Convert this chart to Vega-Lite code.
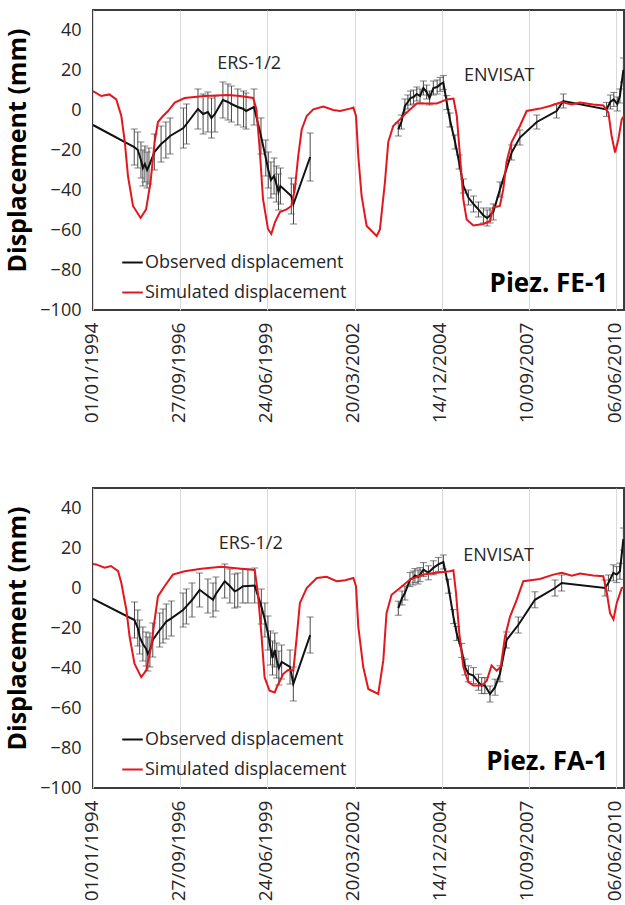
{
  "$schema": "https://vega.github.io/schema/vega-lite/v6.json",
  "padding": {"left": 4, "top": 9, "right": 0, "bottom": 0},
  "background": "white",
  "config": {
    "font": "Open Sans",
    "view": {"stroke": "#3c3c3c", "strokeWidth": 2},
    "axis": {"domain": false, "ticks": false, "labelColor": "#262626", "labelFontSize": 18, "labelFont": "Open Sans", "titleColor": "#000000", "titleFont": "Open Sans"},
    "axisX": {"grid": true, "gridColor": "#d9d9d9", "gridWidth": 1, "labelAngle": -90, "labelPadding": 12, "labelFontSize": 19, "labelOffset": -2},
    "axisY": {"grid": false, "labelPadding": 12, "titleFontSize": 25, "titleFontWeight": "bold", "titlePadding": 9, "titleY": 140},
    "legend": {"labelLimit": 0}
  },
  "datasets": {
    "fe1": [
      {"d": "1994-01-01", "v": 9.5, "s": "Simulated displacement", "g": "m"},
      {"d": "1994-04-05", "v": 7, "s": "Simulated displacement", "g": "m"},
      {"d": "1994-07-08", "v": 7.8, "s": "Simulated displacement", "g": "m"},
      {"d": "1994-09-25", "v": 5.3, "s": "Simulated displacement", "g": "m"},
      {"d": "1994-11-22", "v": -3, "s": "Simulated displacement", "g": "m"},
      {"d": "1995-01-01", "v": -16, "s": "Simulated displacement", "g": "m"},
      {"d": "1995-02-06", "v": -33, "s": "Simulated displacement", "g": "m"},
      {"d": "1995-04-05", "v": -48, "s": "Simulated displacement", "g": "m"},
      {"d": "1995-07-01", "v": -54, "s": "Simulated displacement", "g": "m"},
      {"d": "1995-09-02", "v": -49.7, "s": "Simulated displacement", "g": "m"},
      {"d": "1995-10-23", "v": -36, "s": "Simulated displacement", "g": "m"},
      {"d": "1995-12-09", "v": -16, "s": "Simulated displacement", "g": "m"},
      {"d": "1996-01-16", "v": -6, "s": "Simulated displacement", "g": "m"},
      {"d": "1996-03-14", "v": -3, "s": "Simulated displacement", "g": "m"},
      {"d": "1996-05-11", "v": -0.5, "s": "Simulated displacement", "g": "m"},
      {"d": "1996-07-27", "v": 3.7, "s": "Simulated displacement", "g": "m"},
      {"d": "1996-11-17", "v": 6, "s": "Simulated displacement", "g": "m"},
      {"d": "1997-07-05", "v": 7, "s": "Simulated displacement", "g": "m"},
      {"d": "1998-03-29", "v": 7.5, "s": "Simulated displacement", "g": "m"},
      {"d": "1998-08-14", "v": 7, "s": "Simulated displacement", "g": "m"},
      {"d": "1999-01-12", "v": 6, "s": "Simulated displacement", "g": "m"},
      {"d": "1999-02-18", "v": 0.5, "s": "Simulated displacement", "g": "m"},
      {"d": "1999-03-28", "v": -19.5, "s": "Simulated displacement", "g": "m"},
      {"d": "1999-05-05", "v": -44.5, "s": "Simulated displacement", "g": "m"},
      {"d": "1999-07-01", "v": -59.5, "s": "Simulated displacement", "g": "m"},
      {"d": "1999-08-08", "v": -62, "s": "Simulated displacement", "g": "m"},
      {"d": "1999-09-20", "v": -56, "s": "Simulated displacement", "g": "m"},
      {"d": "1999-11-15", "v": -51, "s": "Simulated displacement", "g": "m"},
      {"d": "2000-01-30", "v": -49.7, "s": "Simulated displacement", "g": "m"},
      {"d": "2000-03-27", "v": -48, "s": "Simulated displacement", "g": "m"},
      {"d": "2000-05-04", "v": -39.7, "s": "Simulated displacement", "g": "m"},
      {"d": "2000-06-12", "v": -23, "s": "Simulated displacement", "g": "m"},
      {"d": "2000-07-22", "v": -9.7, "s": "Simulated displacement", "g": "m"},
      {"d": "2000-09-17", "v": -3, "s": "Simulated displacement", "g": "m"},
      {"d": "2000-12-02", "v": 0.3, "s": "Simulated displacement", "g": "m"},
      {"d": "2001-03-27", "v": 1.7, "s": "Simulated displacement", "g": "m"},
      {"d": "2001-07-19", "v": 0, "s": "Simulated displacement", "g": "m"},
      {"d": "2001-10-05", "v": -0.5, "s": "Simulated displacement", "g": "m"},
      {"d": "2002-01-27", "v": 0.7, "s": "Simulated displacement", "g": "m"},
      {"d": "2002-03-07", "v": 1.2, "s": "Simulated displacement", "g": "m"},
      {"d": "2002-04-06", "v": -3, "s": "Simulated displacement", "g": "m"},
      {"d": "2002-05-02", "v": -23, "s": "Simulated displacement", "g": "m"},
      {"d": "2002-06-09", "v": -43, "s": "Simulated displacement", "g": "m"},
      {"d": "2002-08-06", "v": -58, "s": "Simulated displacement", "g": "m"},
      {"d": "2002-11-29", "v": -63, "s": "Simulated displacement", "g": "m"},
      {"d": "2003-01-05", "v": -59.7, "s": "Simulated displacement", "g": "m"},
      {"d": "2003-03-04", "v": -36, "s": "Simulated displacement", "g": "m"},
      {"d": "2003-04-11", "v": -16, "s": "Simulated displacement", "g": "m"},
      {"d": "2003-06-07", "v": -8, "s": "Simulated displacement", "g": "m"},
      {"d": "2003-08-23", "v": -4.7, "s": "Simulated displacement", "g": "m"},
      {"d": "2003-11-07", "v": -1.3, "s": "Simulated displacement", "g": "m"},
      {"d": "2004-03-02", "v": 3.3, "s": "Simulated displacement", "g": "m"},
      {"d": "2004-06-25", "v": 3.3, "s": "Simulated displacement", "g": "m"},
      {"d": "2004-10-19", "v": 3.3, "s": "Simulated displacement", "g": "m"},
      {"d": "2005-02-11", "v": 5.3, "s": "Simulated displacement", "g": "m"},
      {"d": "2005-04-28", "v": 5.7, "s": "Simulated displacement", "g": "m"},
      {"d": "2005-06-05", "v": -3, "s": "Simulated displacement", "g": "m"},
      {"d": "2005-07-12", "v": -23, "s": "Simulated displacement", "g": "m"},
      {"d": "2005-08-19", "v": -44.7, "s": "Simulated displacement", "g": "m"},
      {"d": "2005-09-26", "v": -54.7, "s": "Simulated displacement", "g": "m"},
      {"d": "2005-12-12", "v": -57.7, "s": "Simulated displacement", "g": "m"},
      {"d": "2006-04-06", "v": -57, "s": "Simulated displacement", "g": "m"},
      {"d": "2006-06-21", "v": -55.5, "s": "Simulated displacement", "g": "m"},
      {"d": "2006-07-28", "v": -48.8, "s": "Simulated displacement", "g": "m"},
      {"d": "2006-10-12", "v": -48, "s": "Simulated displacement", "g": "m"},
      {"d": "2006-11-20", "v": -39.7, "s": "Simulated displacement", "g": "m"},
      {"d": "2006-12-28", "v": -26, "s": "Simulated displacement", "g": "m"},
      {"d": "2007-02-24", "v": -16, "s": "Simulated displacement", "g": "m"},
      {"d": "2007-05-30", "v": -8, "s": "Simulated displacement", "g": "m"},
      {"d": "2007-08-15", "v": -0.5, "s": "Simulated displacement", "g": "m"},
      {"d": "2008-01-15", "v": 0.7, "s": "Simulated displacement", "g": "m"},
      {"d": "2008-05-08", "v": 2, "s": "Simulated displacement", "g": "m"},
      {"d": "2008-09-20", "v": 4, "s": "Simulated displacement", "g": "m"},
      {"d": "2009-01-14", "v": 2.8, "s": "Simulated displacement", "g": "m"},
      {"d": "2009-04-18", "v": 3.7, "s": "Simulated displacement", "g": "m"},
      {"d": "2009-09-16", "v": 2.8, "s": "Simulated displacement", "g": "m"},
      {"d": "2010-01-11", "v": 2.3, "s": "Simulated displacement", "g": "m"},
      {"d": "2010-03-10", "v": -1.3, "s": "Simulated displacement", "g": "m"},
      {"d": "2010-04-16", "v": -13, "s": "Simulated displacement", "g": "m"},
      {"d": "2010-05-26", "v": -21.3, "s": "Simulated displacement", "g": "m"},
      {"d": "2010-07-02", "v": -14.7, "s": "Simulated displacement", "g": "m"},
      {"d": "2010-08-10", "v": -4.7, "s": "Simulated displacement", "g": "m"},
      {"d": "2010-09-16", "v": -2.2, "s": "Simulated displacement", "g": "m"},

      {"d": "1994-01-01", "v": -7.5, "s": "Observed displacement", "g": "ers"},
      {"d": "1995-04-19", "v": -18.5, "lo": -27.5, "hi": -9.5, "s": "Observed displacement", "g": "ers"},
      {"d": "1995-05-30", "v": -20, "lo": -29, "hi": -11, "s": "Observed displacement", "g": "ers"},
      {"d": "1995-07-05", "v": -25, "lo": -34, "hi": -16, "s": "Observed displacement", "g": "ers"},
      {"d": "1995-07-27", "v": -29, "lo": -38, "hi": -20, "s": "Observed displacement", "g": "ers"},
      {"d": "1995-08-19", "v": -27, "lo": -36, "hi": -18, "s": "Observed displacement", "g": "ers"},
      {"d": "1995-09-13", "v": -30, "lo": -39, "hi": -21, "s": "Observed displacement", "g": "ers"},
      {"d": "1995-10-05", "v": -28, "lo": -37, "hi": -19, "s": "Observed displacement", "g": "ers"},
      {"d": "1995-12-06", "v": -21, "lo": -30, "hi": -12, "s": "Observed displacement", "g": "ers"},
      {"d": "1996-02-21", "v": -17, "lo": -26, "hi": -8, "s": "Observed displacement", "g": "ers"},
      {"d": "1996-04-16", "v": -15, "lo": -24, "hi": -6, "s": "Observed displacement", "g": "ers"},
      {"d": "1996-06-03", "v": -13, "lo": -22, "hi": -4, "s": "Observed displacement", "g": "ers"},
      {"d": "1996-11-03", "v": -9, "lo": -19, "hi": 1, "s": "Observed displacement", "g": "ers"},
      {"d": "1996-12-09", "v": -7, "lo": -17, "hi": 3, "s": "Observed displacement", "g": "ers"},
      {"d": "1997-04-19", "v": 0.5, "lo": -9.5, "hi": 10.5, "s": "Observed displacement", "g": "ers"},
      {"d": "1997-06-17", "v": -2, "lo": -12, "hi": 8, "s": "Observed displacement", "g": "ers"},
      {"d": "1997-08-11", "v": -1, "lo": -11, "hi": 9, "s": "Observed displacement", "g": "ers"},
      {"d": "1997-09-21", "v": -4, "lo": -14, "hi": 6, "s": "Observed displacement", "g": "ers"},
      {"d": "1997-10-31", "v": -2, "lo": -11, "hi": 7, "s": "Observed displacement", "g": "ers"},
      {"d": "1998-01-30", "v": 5, "lo": -4, "hi": 14, "s": "Observed displacement", "g": "ers"},
      {"d": "1998-03-29", "v": 4, "lo": -5, "hi": 13, "s": "Observed displacement", "g": "ers"},
      {"d": "1998-05-08", "v": 3, "lo": -6, "hi": 12, "s": "Observed displacement", "g": "ers"},
      {"d": "1998-07-20", "v": 1.5, "lo": -7.5, "hi": 10.5, "s": "Observed displacement", "g": "ers"},
      {"d": "1998-09-24", "v": 0.5, "lo": -8.5, "hi": 9.5, "s": "Observed displacement", "g": "ers"},
      {"d": "1998-10-23", "v": -0.5, "lo": -9.5, "hi": 8.5, "s": "Observed displacement", "g": "ers"},
      {"d": "1999-01-22", "v": 1.5, "lo": -7.5, "hi": 10.5, "s": "Observed displacement", "g": "ers"},
      {"d": "1999-04-12", "v": -13, "lo": -22, "hi": -4, "s": "Observed displacement", "g": "ers"},
      {"d": "1999-06-06", "v": -24, "lo": -33, "hi": -15, "s": "Observed displacement", "g": "ers"},
      {"d": "1999-07-05", "v": -30, "lo": -39, "hi": -21, "s": "Observed displacement", "g": "ers"},
      {"d": "1999-08-04", "v": -35, "lo": -44, "hi": -26, "s": "Observed displacement", "g": "ers"},
      {"d": "1999-09-09", "v": -33, "lo": -42, "hi": -24, "s": "Observed displacement", "g": "ers"},
      {"d": "1999-10-05", "v": -37, "lo": -46, "hi": -28, "s": "Observed displacement", "g": "ers"},
      {"d": "1999-10-30", "v": -41, "lo": -50, "hi": -32, "s": "Observed displacement", "g": "ers"},
      {"d": "1999-11-21", "v": -38, "lo": -47, "hi": -29, "s": "Observed displacement", "g": "ers"},
      {"d": "2000-03-25", "v": -43, "lo": -52, "hi": -34, "s": "Observed displacement", "g": "ers"},
      {"d": "2000-04-19", "v": -47, "lo": -57, "hi": -37, "s": "Observed displacement", "g": "ers"},
      {"d": "2000-10-27", "v": -23.5, "lo": -35.5, "hi": -11.5, "s": "Observed displacement", "g": "ers"},

      {"d": "2003-08-04", "v": -9.7, "lo": -13, "hi": -6.4, "s": "Observed displacement", "g": "env"},
      {"d": "2003-09-09", "v": -6, "lo": -9.5, "hi": -2.5, "s": "Observed displacement", "g": "env"},
      {"d": "2003-10-19", "v": 2, "lo": -1.5, "hi": 5.5, "s": "Observed displacement", "g": "env"},
      {"d": "2003-11-22", "v": 4, "lo": 0.5, "hi": 7.5, "s": "Observed displacement", "g": "env"},
      {"d": "2003-12-21", "v": 6, "lo": 2.5, "hi": 9.5, "s": "Observed displacement", "g": "env"},
      {"d": "2004-01-26", "v": 6.5, "lo": 3, "hi": 10, "s": "Observed displacement", "g": "env"},
      {"d": "2004-03-03", "v": 8, "lo": 4.5, "hi": 11.5, "s": "Observed displacement", "g": "env"},
      {"d": "2004-04-09", "v": 7, "lo": 3.5, "hi": 10.5, "s": "Observed displacement", "g": "env"},
      {"d": "2004-05-18", "v": 11, "lo": 7.5, "hi": 14.5, "s": "Observed displacement", "g": "env"},
      {"d": "2004-06-24", "v": 9, "lo": 5.5, "hi": 12.5, "s": "Observed displacement", "g": "env"},
      {"d": "2004-07-28", "v": 6, "lo": 2.5, "hi": 9.5, "s": "Observed displacement", "g": "env"},
      {"d": "2004-09-09", "v": 11, "lo": 7.5, "hi": 14.5, "s": "Observed displacement", "g": "env"},
      {"d": "2004-10-23", "v": 11.5, "lo": 8, "hi": 15, "s": "Observed displacement", "g": "env"},
      {"d": "2004-11-25", "v": 12.8, "lo": 9.3, "hi": 16.3, "s": "Observed displacement", "g": "env"},
      {"d": "2005-01-02", "v": 13.7, "lo": 10.2, "hi": 17.2, "s": "Observed displacement", "g": "env"},
      {"d": "2005-02-10", "v": 3.7, "lo": 0.2, "hi": 7.2, "s": "Observed displacement", "g": "env"},
      {"d": "2005-03-19", "v": -5, "lo": -8.5, "hi": -1.5, "s": "Observed displacement", "g": "env"},
      {"d": "2005-05-16", "v": -16, "lo": -19.5, "hi": -12.5, "s": "Observed displacement", "g": "env"},
      {"d": "2005-07-01", "v": -26, "lo": -29.5, "hi": -22.5, "s": "Observed displacement", "g": "env"},
      {"d": "2005-08-20", "v": -38, "lo": -41.5, "hi": -34.5, "s": "Observed displacement", "g": "env"},
      {"d": "2005-10-16", "v": -43.8, "lo": -47.5, "hi": -40, "s": "Observed displacement", "g": "env"},
      {"d": "2005-12-13", "v": -47, "lo": -51, "hi": -43, "s": "Observed displacement", "g": "env"},
      {"d": "2006-02-08", "v": -49.7, "lo": -53.5, "hi": -46, "s": "Observed displacement", "g": "env"},
      {"d": "2006-04-06", "v": -52.7, "lo": -56.5, "hi": -49, "s": "Observed displacement", "g": "env"},
      {"d": "2006-05-19", "v": -54, "lo": -58, "hi": -50, "s": "Observed displacement", "g": "env"},
      {"d": "2006-06-21", "v": -52.7, "lo": -56.5, "hi": -49, "s": "Observed displacement", "g": "env"},
      {"d": "2006-07-29", "v": -51, "lo": -55, "hi": -47, "s": "Observed displacement", "g": "env"},
      {"d": "2006-10-13", "v": -39.7, "lo": -43.5, "hi": -36, "s": "Observed displacement", "g": "env"},
      {"d": "2007-02-24", "v": -21.3, "lo": -25, "hi": -17.5, "s": "Observed displacement", "g": "env"},
      {"d": "2007-05-30", "v": -13.8, "lo": -17.5, "hi": -10, "s": "Observed displacement", "g": "env"},
      {"d": "2007-12-10", "v": -6, "lo": -9.5, "hi": -2.5, "s": "Observed displacement", "g": "env"},
      {"d": "2008-07-24", "v": -0.5, "lo": -4, "hi": 3, "s": "Observed displacement", "g": "env"},
      {"d": "2008-10-09", "v": 4.5, "lo": 1, "hi": 8, "s": "Observed displacement", "g": "env"},
      {"d": "2010-02-17", "v": 0.3, "lo": -3.2, "hi": 3.8, "s": "Observed displacement", "g": "env"},
      {"d": "2010-04-01", "v": 4, "lo": 0.5, "hi": 7.5, "s": "Observed displacement", "g": "env"},
      {"d": "2010-05-11", "v": 5.3, "lo": 1.8, "hi": 8.8, "s": "Observed displacement", "g": "env"},
      {"d": "2010-06-20", "v": 3, "lo": -0.5, "hi": 6.5, "s": "Observed displacement", "g": "env"},
      {"d": "2010-07-20", "v": 7, "lo": 3.5, "hi": 10.5, "s": "Observed displacement", "g": "env"},
      {"d": "2010-08-29", "v": 20, "lo": 14, "hi": 26, "s": "Observed displacement", "g": "env"}
    ],
    "fa1": [
      {"d": "1994-01-01", "v": 12, "s": "Simulated displacement", "g": "m"},
      {"d": "1994-02-07", "v": 11.8, "s": "Simulated displacement", "g": "m"},
      {"d": "1994-05-14", "v": 10.1, "s": "Simulated displacement", "g": "m"},
      {"d": "1994-07-27", "v": 11, "s": "Simulated displacement", "g": "m"},
      {"d": "1994-10-16", "v": 8.4, "s": "Simulated displacement", "g": "m"},
      {"d": "1994-11-22", "v": 2.5, "s": "Simulated displacement", "g": "m"},
      {"d": "1995-01-19", "v": -11, "s": "Simulated displacement", "g": "m"},
      {"d": "1995-02-25", "v": -24.4, "s": "Simulated displacement", "g": "m"},
      {"d": "1995-04-22", "v": -37.9, "s": "Simulated displacement", "g": "m"},
      {"d": "1995-07-08", "v": -44.6, "s": "Simulated displacement", "g": "m"},
      {"d": "1995-09-02", "v": -41.3, "s": "Simulated displacement", "g": "m"},
      {"d": "1995-10-30", "v": -29.5, "s": "Simulated displacement", "g": "m"},
      {"d": "1995-12-09", "v": -16, "s": "Simulated displacement", "g": "m"},
      {"d": "1996-01-16", "v": -4.2, "s": "Simulated displacement", "g": "m"},
      {"d": "1996-04-01", "v": 0.9, "s": "Simulated displacement", "g": "m"},
      {"d": "1996-07-05", "v": 6.7, "s": "Simulated displacement", "g": "m"},
      {"d": "1996-11-17", "v": 8.4, "s": "Simulated displacement", "g": "m"},
      {"d": "1997-05-27", "v": 9.6, "s": "Simulated displacement", "g": "m"},
      {"d": "1998-01-11", "v": 10.6, "s": "Simulated displacement", "g": "m"},
      {"d": "1998-08-29", "v": 9.6, "s": "Simulated displacement", "g": "m"},
      {"d": "1999-01-30", "v": 9, "s": "Simulated displacement", "g": "m"},
      {"d": "1999-03-07", "v": -2.5, "s": "Simulated displacement", "g": "m"},
      {"d": "1999-04-16", "v": -22.7, "s": "Simulated displacement", "g": "m"},
      {"d": "1999-05-23", "v": -44.6, "s": "Simulated displacement", "g": "m"},
      {"d": "1999-07-19", "v": -51.4, "s": "Simulated displacement", "g": "m"},
      {"d": "1999-09-17", "v": -52.2, "s": "Simulated displacement", "g": "m"},
      {"d": "1999-10-10", "v": -49.6, "s": "Simulated displacement", "g": "m"},
      {"d": "1999-12-24", "v": -42.9, "s": "Simulated displacement", "g": "m"},
      {"d": "2000-02-17", "v": -41, "s": "Simulated displacement", "g": "m"},
      {"d": "2000-04-17", "v": -41.3, "s": "Simulated displacement", "g": "m"},
      {"d": "2000-05-26", "v": -24.4, "s": "Simulated displacement", "g": "m"},
      {"d": "2000-07-01", "v": -7.6, "s": "Simulated displacement", "g": "m"},
      {"d": "2000-09-17", "v": 0, "s": "Simulated displacement", "g": "m"},
      {"d": "2001-01-11", "v": 5, "s": "Simulated displacement", "g": "m"},
      {"d": "2001-05-04", "v": 5.6, "s": "Simulated displacement", "g": "m"},
      {"d": "2001-08-27", "v": 3.4, "s": "Simulated displacement", "g": "m"},
      {"d": "2001-12-02", "v": 3.9, "s": "Simulated displacement", "g": "m"},
      {"d": "2002-03-07", "v": 5, "s": "Simulated displacement", "g": "m"},
      {"d": "2002-04-06", "v": 0.9, "s": "Simulated displacement", "g": "m"},
      {"d": "2002-05-02", "v": -19.3, "s": "Simulated displacement", "g": "m"},
      {"d": "2002-06-28", "v": -39.5, "s": "Simulated displacement", "g": "m"},
      {"d": "2002-08-25", "v": -50.5, "s": "Simulated displacement", "g": "m"},
      {"d": "2002-12-17", "v": -53, "s": "Simulated displacement", "g": "m"},
      {"d": "2003-02-13", "v": -36.2, "s": "Simulated displacement", "g": "m"},
      {"d": "2003-03-22", "v": -12.6, "s": "Simulated displacement", "g": "m"},
      {"d": "2003-05-19", "v": -3.4, "s": "Simulated displacement", "g": "m"},
      {"d": "2003-08-23", "v": 0, "s": "Simulated displacement", "g": "m"},
      {"d": "2003-12-16", "v": 4.2, "s": "Simulated displacement", "g": "m"},
      {"d": "2004-05-18", "v": 6.7, "s": "Simulated displacement", "g": "m"},
      {"d": "2004-10-19", "v": 7.6, "s": "Simulated displacement", "g": "m"},
      {"d": "2005-03-19", "v": 8.4, "s": "Simulated displacement", "g": "m"},
      {"d": "2005-04-27", "v": 8.9, "s": "Simulated displacement", "g": "m"},
      {"d": "2005-05-27", "v": -2.5, "s": "Simulated displacement", "g": "m"},
      {"d": "2005-07-04", "v": -22.7, "s": "Simulated displacement", "g": "m"},
      {"d": "2005-08-19", "v": -39.5, "s": "Simulated displacement", "g": "m"},
      {"d": "2005-10-16", "v": -47.1, "s": "Simulated displacement", "g": "m"},
      {"d": "2005-12-13", "v": -48.8, "s": "Simulated displacement", "g": "m"},
      {"d": "2006-03-18", "v": -48.8, "s": "Simulated displacement", "g": "m"},
      {"d": "2006-05-15", "v": -46.3, "s": "Simulated displacement", "g": "m"},
      {"d": "2006-07-09", "v": -38.7, "s": "Simulated displacement", "g": "m"},
      {"d": "2006-09-05", "v": -41.3, "s": "Simulated displacement", "g": "m"},
      {"d": "2006-10-22", "v": -39.5, "s": "Simulated displacement", "g": "m"},
      {"d": "2006-12-10", "v": -24.4, "s": "Simulated displacement", "g": "m"},
      {"d": "2007-02-06", "v": -14.3, "s": "Simulated displacement", "g": "m"},
      {"d": "2007-04-23", "v": -5.9, "s": "Simulated displacement", "g": "m"},
      {"d": "2007-07-08", "v": 3.4, "s": "Simulated displacement", "g": "m"},
      {"d": "2008-01-15", "v": 4.5, "s": "Simulated displacement", "g": "m"},
      {"d": "2008-06-16", "v": 6.7, "s": "Simulated displacement", "g": "m"},
      {"d": "2008-09-20", "v": 7.6, "s": "Simulated displacement", "g": "m"},
      {"d": "2009-01-14", "v": 6.2, "s": "Simulated displacement", "g": "m"},
      {"d": "2009-04-18", "v": 7.2, "s": "Simulated displacement", "g": "m"},
      {"d": "2009-09-16", "v": 6.2, "s": "Simulated displacement", "g": "m"},
      {"d": "2010-01-11", "v": 5.9, "s": "Simulated displacement", "g": "m"},
      {"d": "2010-02-20", "v": -2.5, "s": "Simulated displacement", "g": "m"},
      {"d": "2010-03-29", "v": -12.6, "s": "Simulated displacement", "g": "m"},
      {"d": "2010-05-07", "v": -15.7, "s": "Simulated displacement", "g": "m"},
      {"d": "2010-06-13", "v": -7.6, "s": "Simulated displacement", "g": "m"},
      {"d": "2010-08-10", "v": 0, "s": "Simulated displacement", "g": "m"},
      {"d": "2010-09-16", "v": 0.5, "s": "Simulated displacement", "g": "m"},

      {"d": "1994-01-01", "v": -5.5, "s": "Observed displacement", "g": "ers"},
      {"d": "1995-04-22", "v": -16, "lo": -25, "hi": -7, "s": "Observed displacement", "g": "ers"},
      {"d": "1995-05-30", "v": -20, "lo": -29, "hi": -11, "s": "Observed displacement", "g": "ers"},
      {"d": "1995-06-20", "v": -24.4, "lo": -33, "hi": -16, "s": "Observed displacement", "g": "ers"},
      {"d": "1995-07-27", "v": -28, "lo": -36.5, "hi": -19.5, "s": "Observed displacement", "g": "ers"},
      {"d": "1995-09-02", "v": -30.3, "lo": -39, "hi": -22, "s": "Observed displacement", "g": "ers"},
      {"d": "1995-09-22", "v": -33, "lo": -41.5, "hi": -24.5, "s": "Observed displacement", "g": "ers"},
      {"d": "1995-10-16", "v": -31, "lo": -39.5, "hi": -22.5, "s": "Observed displacement", "g": "ers"},
      {"d": "1995-11-18", "v": -26, "lo": -34.5, "hi": -17.5, "s": "Observed displacement", "g": "ers"},
      {"d": "1996-02-05", "v": -21, "lo": -29.5, "hi": -12.5, "s": "Observed displacement", "g": "ers"},
      {"d": "1996-03-14", "v": -19, "lo": -27.5, "hi": -10.5, "s": "Observed displacement", "g": "ers"},
      {"d": "1996-04-20", "v": -16.8, "lo": -25.5, "hi": -8, "s": "Observed displacement", "g": "ers"},
      {"d": "1996-06-17", "v": -15.2, "lo": -24, "hi": -6.5, "s": "Observed displacement", "g": "ers"},
      {"d": "1996-10-30", "v": -11, "lo": -19.5, "hi": -2.5, "s": "Observed displacement", "g": "ers"},
      {"d": "1996-12-07", "v": -9.2, "lo": -18, "hi": -0.5, "s": "Observed displacement", "g": "ers"},
      {"d": "1997-02-10", "v": -6, "lo": -14.5, "hi": 2.5, "s": "Observed displacement", "g": "ers"},
      {"d": "1997-05-08", "v": -0.9, "lo": -9.5, "hi": 7.5, "s": "Observed displacement", "g": "ers"},
      {"d": "1997-08-11", "v": -4, "lo": -12.5, "hi": 4.5, "s": "Observed displacement", "g": "ers"},
      {"d": "1997-10-09", "v": -5.9, "lo": -14.5, "hi": 2.5, "s": "Observed displacement", "g": "ers"},
      {"d": "1997-11-11", "v": -3, "lo": -11.5, "hi": 5.5, "s": "Observed displacement", "g": "ers"},
      {"d": "1998-02-20", "v": 3.4, "lo": -5, "hi": 12, "s": "Observed displacement", "g": "ers"},
      {"d": "1998-04-20", "v": 1, "lo": -7.5, "hi": 9.5, "s": "Observed displacement", "g": "ers"},
      {"d": "1998-06-14", "v": -1.7, "lo": -10, "hi": 7, "s": "Observed displacement", "g": "ers"},
      {"d": "1998-07-20", "v": -1, "lo": -9.5, "hi": 7.5, "s": "Observed displacement", "g": "ers"},
      {"d": "1998-09-16", "v": 0.9, "lo": -7.5, "hi": 9.5, "s": "Observed displacement", "g": "ers"},
      {"d": "1998-11-13", "v": 1, "lo": -7.5, "hi": 9.5, "s": "Observed displacement", "g": "ers"},
      {"d": "1999-01-30", "v": 1.2, "lo": -7.5, "hi": 10, "s": "Observed displacement", "g": "ers"},
      {"d": "1999-04-16", "v": -9.2, "lo": -18, "hi": -0.5, "s": "Observed displacement", "g": "ers"},
      {"d": "1999-05-27", "v": -16, "lo": -24.5, "hi": -7.5, "s": "Observed displacement", "g": "ers"},
      {"d": "1999-07-01", "v": -22.7, "lo": -31, "hi": -14, "s": "Observed displacement", "g": "ers"},
      {"d": "1999-07-30", "v": -30, "lo": -38.5, "hi": -21.5, "s": "Observed displacement", "g": "ers"},
      {"d": "1999-08-22", "v": -35, "lo": -43.5, "hi": -26.5, "s": "Observed displacement", "g": "ers"},
      {"d": "1999-09-17", "v": -31, "lo": -39.5, "hi": -22.5, "s": "Observed displacement", "g": "ers"},
      {"d": "1999-10-10", "v": -36.2, "lo": -45, "hi": -27.5, "s": "Observed displacement", "g": "ers"},
      {"d": "1999-11-03", "v": -40, "lo": -48.5, "hi": -31.5, "s": "Observed displacement", "g": "ers"},
      {"d": "1999-12-05", "v": -37, "lo": -45.5, "hi": -28.5, "s": "Observed displacement", "g": "ers"},
      {"d": "2000-03-10", "v": -39.5, "lo": -48, "hi": -31, "s": "Observed displacement", "g": "ers"},
      {"d": "2000-04-17", "v": -48, "lo": -56.5, "hi": -39.5, "s": "Observed displacement", "g": "ers"},
      {"d": "2000-10-27", "v": -23.6, "lo": -32.5, "hi": -14.5, "s": "Observed displacement", "g": "ers"},

      {"d": "2003-08-04", "v": -10.1, "lo": -13.6, "hi": -6.6, "s": "Observed displacement", "g": "env"},
      {"d": "2003-09-16", "v": -5, "lo": -8.5, "hi": -1.5, "s": "Observed displacement", "g": "env"},
      {"d": "2003-10-19", "v": -2.5, "lo": -6, "hi": 1, "s": "Observed displacement", "g": "env"},
      {"d": "2003-12-16", "v": 4.2, "lo": 0.7, "hi": 7.7, "s": "Observed displacement", "g": "env"},
      {"d": "2004-01-20", "v": 5, "lo": 1.5, "hi": 8.5, "s": "Observed displacement", "g": "env"},
      {"d": "2004-02-11", "v": 6.2, "lo": 2.7, "hi": 9.7, "s": "Observed displacement", "g": "env"},
      {"d": "2004-03-18", "v": 5.5, "lo": 2, "hi": 9, "s": "Observed displacement", "g": "env"},
      {"d": "2004-04-09", "v": 6.7, "lo": 3.2, "hi": 10.2, "s": "Observed displacement", "g": "env"},
      {"d": "2004-05-18", "v": 9.2, "lo": 5.7, "hi": 12.7, "s": "Observed displacement", "g": "env"},
      {"d": "2004-07-14", "v": 7.6, "lo": 4.1, "hi": 11.1, "s": "Observed displacement", "g": "env"},
      {"d": "2004-09-09", "v": 10.1, "lo": 6.6, "hi": 13.6, "s": "Observed displacement", "g": "env"},
      {"d": "2004-11-06", "v": 11.8, "lo": 8.3, "hi": 15.3, "s": "Observed displacement", "g": "env"},
      {"d": "2005-01-02", "v": 13, "lo": 9.5, "hi": 16.5, "s": "Observed displacement", "g": "env"},
      {"d": "2005-02-28", "v": 0.9, "lo": -2.6, "hi": 4.4, "s": "Observed displacement", "g": "env"},
      {"d": "2005-04-27", "v": -14.3, "lo": -17.8, "hi": -10.8, "s": "Observed displacement", "g": "env"},
      {"d": "2005-06-04", "v": -22.7, "lo": -26.2, "hi": -19.2, "s": "Observed displacement", "g": "env"},
      {"d": "2005-07-31", "v": -31.2, "lo": -34.7, "hi": -27.7, "s": "Observed displacement", "g": "env"},
      {"d": "2005-09-07", "v": -39.5, "lo": -43.5, "hi": -35.5, "s": "Observed displacement", "g": "env"},
      {"d": "2005-10-16", "v": -42.9, "lo": -46.9, "hi": -38.9, "s": "Observed displacement", "g": "env"},
      {"d": "2005-12-13", "v": -43.8, "lo": -47.8, "hi": -39.8, "s": "Observed displacement", "g": "env"},
      {"d": "2006-02-08", "v": -47.1, "lo": -51.1, "hi": -43.1, "s": "Observed displacement", "g": "env"},
      {"d": "2006-03-18", "v": -48.8, "lo": -52.8, "hi": -44.8, "s": "Observed displacement", "g": "env"},
      {"d": "2006-04-23", "v": -48.8, "lo": -52.8, "hi": -44.8, "s": "Observed displacement", "g": "env"},
      {"d": "2006-06-21", "v": -53, "lo": -57, "hi": -49, "s": "Observed displacement", "g": "env"},
      {"d": "2006-08-18", "v": -49.6, "lo": -53.6, "hi": -45.6, "s": "Observed displacement", "g": "env"},
      {"d": "2006-10-13", "v": -42.9, "lo": -46.9, "hi": -38.9, "s": "Observed displacement", "g": "env"},
      {"d": "2006-12-28", "v": -26, "lo": -30, "hi": -22, "s": "Observed displacement", "g": "env"},
      {"d": "2007-05-11", "v": -18.5, "lo": -22.5, "hi": -14.5, "s": "Observed displacement", "g": "env"},
      {"d": "2007-11-18", "v": -5.9, "lo": -9.9, "hi": -1.9, "s": "Observed displacement", "g": "env"},
      {"d": "2008-07-05", "v": 0, "lo": -4, "hi": 4, "s": "Observed displacement", "g": "env"},
      {"d": "2008-09-20", "v": 2.5, "lo": -1.5, "hi": 6.5, "s": "Observed displacement", "g": "env"},
      {"d": "2010-01-30", "v": 0, "lo": -4, "hi": 4, "s": "Observed displacement", "g": "env"},
      {"d": "2010-03-10", "v": 2.5, "lo": -1.5, "hi": 6.5, "s": "Observed displacement", "g": "env"},
      {"d": "2010-05-05", "v": 7.6, "lo": 3.6, "hi": 11.6, "s": "Observed displacement", "g": "env"},
      {"d": "2010-06-13", "v": 6.7, "lo": 2.7, "hi": 10.7, "s": "Observed displacement", "g": "env"},
      {"d": "2010-07-20", "v": 8.4, "lo": 4.4, "hi": 12.4, "s": "Observed displacement", "g": "env"},
      {"d": "2010-08-29", "v": 24.4, "lo": 19, "hi": 30, "s": "Observed displacement", "g": "env"}
    ]
  },
  "spacing": 63,
  "resolve": {"scale": {"color": "independent"}, "legend": {"color": "independent"}},
  "vconcat": [
    {
      "width": 531,
      "height": 300,
      "data": {"name": "fe1"},
      "encoding": {
        "x": {"field": "d", "type": "temporal", "title": null,
          "scale": {"type": "utc", "domain": [{"year": 1994, "month": 1, "date": 1, "utc": true}, {"year": 2010, "month": 9, "date": 5, "utc": true}]},
          "axis": {"format": "%d/%m/%Y", "values": [
            {"year": 1994, "month": 1, "date": 1, "utc": true},
            {"year": 1996, "month": 9, "date": 27, "utc": true},
            {"year": 1999, "month": 6, "date": 24, "utc": true},
            {"year": 2002, "month": 3, "date": 20, "utc": true},
            {"year": 2004, "month": 12, "date": 14, "utc": true},
            {"year": 2007, "month": 9, "date": 10, "utc": true},
            {"year": 2010, "month": 6, "date": 6, "utc": true}]}},
        "y": {"field": "v", "type": "quantitative", "title": "Displacement (mm)",
          "scale": {"domain": [-100, 50], "nice": false, "zero": false},
          "axis": {"values": [-100, -80, -60, -40, -20, 0, 20, 40]}}
      },
      "layer": [
        {
          "transform": [{"filter": "isValid(datum.lo)"}],
          "mark": {"type": "rule", "color": "#4a4a4a", "strokeWidth": 1},
          "encoding": {"y": {"field": "lo", "type": "quantitative", "title": "Displacement (mm)"}, "y2": {"field": "hi"}}
        },
        {
          "transform": [{"filter": "isValid(datum.lo)"}],
          "mark": {"type": "tick", "orient": "horizontal", "size": 7, "thickness": 1, "color": "#4a4a4a"},
          "encoding": {"y": {"field": "lo", "type": "quantitative", "title": "Displacement (mm)"}}
        },
        {
          "transform": [{"filter": "isValid(datum.hi)"}],
          "mark": {"type": "tick", "orient": "horizontal", "size": 7, "thickness": 1, "color": "#4a4a4a"},
          "encoding": {"y": {"field": "hi", "type": "quantitative", "title": "Displacement (mm)"}}
        },
        {
          "transform": [{"filter": "datum.s == 'Observed displacement'"}],
          "mark": {"type": "line", "strokeWidth": 2, "clip": true},
          "encoding": {
            "detail": {"field": "g"},
            "color": {"field": "s", "type": "nominal",
              "scale": {"domain": ["Observed displacement", "Simulated displacement"], "range": ["#111111", "#e3171e"]},
              "legend": {"orient": "none", "legendX": 28, "legendY": 241, "title": null, "symbolType": "stroke", "symbolSize": 420, "symbolStrokeWidth": 2, "labelFontSize": 18, "labelFont": "Open Sans", "labelColor": "#262626", "labelOffset": 1, "labelLimit": 0, "rowPadding": 9, "padding": 0}}
          }
        },
        {
          "transform": [{"filter": "datum.s == 'Simulated displacement'"}],
          "mark": {"type": "line", "strokeWidth": 2, "clip": true},
          "encoding": {
            "color": {"field": "s", "type": "nominal",
              "scale": {"domain": ["Observed displacement", "Simulated displacement"], "range": ["#111111", "#e3171e"]},
              "legend": {"orient": "none", "legendX": 28, "legendY": 241, "title": null, "symbolType": "stroke", "symbolSize": 420, "symbolStrokeWidth": 2, "labelFontSize": 18, "labelFont": "Open Sans", "labelColor": "#262626", "labelOffset": 1, "labelLimit": 0, "rowPadding": 9, "padding": 0}}
          }
        },
        {
          "data": {"values": [
            {"d": "1998-11-27", "v": 23, "t": "ERS-1/2"},
            {"d": "2006-10-05", "v": 17, "t": "ENVISAT"}
          ]},
          "mark": {"type": "text", "fontSize": 18, "font": "Open Sans", "color": "#262626", "align": "center", "baseline": "middle"},
          "encoding": {"text": {"field": "t"}}
        },
        {
          "data": {"values": [{"d": "2010-03-07", "v": -87, "t": "Piez. FE-1"}]},
          "mark": {"type": "text", "fontSize": 26, "fontWeight": "bold", "font": "Open Sans", "color": "#000000", "align": "right", "baseline": "middle"},
          "encoding": {"text": {"field": "t"}}
        }
      ]
    },
    {
      "width": 531,
      "height": 300,
      "data": {"name": "fa1"},
      "encoding": {
        "x": {"field": "d", "type": "temporal", "title": null,
          "scale": {"type": "utc", "domain": [{"year": 1994, "month": 1, "date": 1, "utc": true}, {"year": 2010, "month": 9, "date": 5, "utc": true}]},
          "axis": {"format": "%d/%m/%Y", "values": [
            {"year": 1994, "month": 1, "date": 1, "utc": true},
            {"year": 1996, "month": 9, "date": 27, "utc": true},
            {"year": 1999, "month": 6, "date": 24, "utc": true},
            {"year": 2002, "month": 3, "date": 20, "utc": true},
            {"year": 2004, "month": 12, "date": 14, "utc": true},
            {"year": 2007, "month": 9, "date": 10, "utc": true},
            {"year": 2010, "month": 6, "date": 6, "utc": true}]}},
        "y": {"field": "v", "type": "quantitative", "title": "Displacement (mm)",
          "scale": {"domain": [-100, 50], "nice": false, "zero": false},
          "axis": {"values": [-100, -80, -60, -40, -20, 0, 20, 40]}}
      },
      "layer": [
        {
          "transform": [{"filter": "isValid(datum.lo)"}],
          "mark": {"type": "rule", "color": "#4a4a4a", "strokeWidth": 1},
          "encoding": {"y": {"field": "lo", "type": "quantitative", "title": "Displacement (mm)"}, "y2": {"field": "hi"}}
        },
        {
          "transform": [{"filter": "isValid(datum.lo)"}],
          "mark": {"type": "tick", "orient": "horizontal", "size": 7, "thickness": 1, "color": "#4a4a4a"},
          "encoding": {"y": {"field": "lo", "type": "quantitative", "title": "Displacement (mm)"}}
        },
        {
          "transform": [{"filter": "isValid(datum.hi)"}],
          "mark": {"type": "tick", "orient": "horizontal", "size": 7, "thickness": 1, "color": "#4a4a4a"},
          "encoding": {"y": {"field": "hi", "type": "quantitative", "title": "Displacement (mm)"}}
        },
        {
          "transform": [{"filter": "datum.s == 'Observed displacement'"}],
          "mark": {"type": "line", "strokeWidth": 2, "clip": true},
          "encoding": {
            "detail": {"field": "g"},
            "color": {"field": "s", "type": "nominal",
              "scale": {"domain": ["Observed displacement", "Simulated displacement"], "range": ["#111111", "#e3171e"]},
              "legend": {"orient": "none", "legendX": 28, "legendY": 240, "title": null, "symbolType": "stroke", "symbolSize": 420, "symbolStrokeWidth": 2, "labelFontSize": 18, "labelFont": "Open Sans", "labelColor": "#262626", "labelOffset": 1, "labelLimit": 0, "rowPadding": 9, "padding": 0}}
          }
        },
        {
          "transform": [{"filter": "datum.s == 'Simulated displacement'"}],
          "mark": {"type": "line", "strokeWidth": 2, "clip": true},
          "encoding": {
            "color": {"field": "s", "type": "nominal",
              "scale": {"domain": ["Observed displacement", "Simulated displacement"], "range": ["#111111", "#e3171e"]},
              "legend": {"orient": "none", "legendX": 28, "legendY": 240, "title": null, "symbolType": "stroke", "symbolSize": 420, "symbolStrokeWidth": 2, "labelFontSize": 18, "labelFont": "Open Sans", "labelColor": "#262626", "labelOffset": 1, "labelLimit": 0, "rowPadding": 9, "padding": 0}}
          }
        },
        {
          "data": {"values": [
            {"d": "1998-12-16", "v": 22, "t": "ERS-1/2"},
            {"d": "2006-09-27", "v": 16, "t": "ENVISAT"}
          ]},
          "mark": {"type": "text", "fontSize": 18, "font": "Open Sans", "color": "#262626", "align": "center", "baseline": "middle"},
          "encoding": {"text": {"field": "t"}}
        },
        {
          "data": {"values": [{"d": "2010-03-07", "v": -87, "t": "Piez. FA-1"}]},
          "mark": {"type": "text", "fontSize": 26, "fontWeight": "bold", "font": "Open Sans", "color": "#000000", "align": "right", "baseline": "middle"},
          "encoding": {"text": {"field": "t"}}
        }
      ]
    }
  ]
}
